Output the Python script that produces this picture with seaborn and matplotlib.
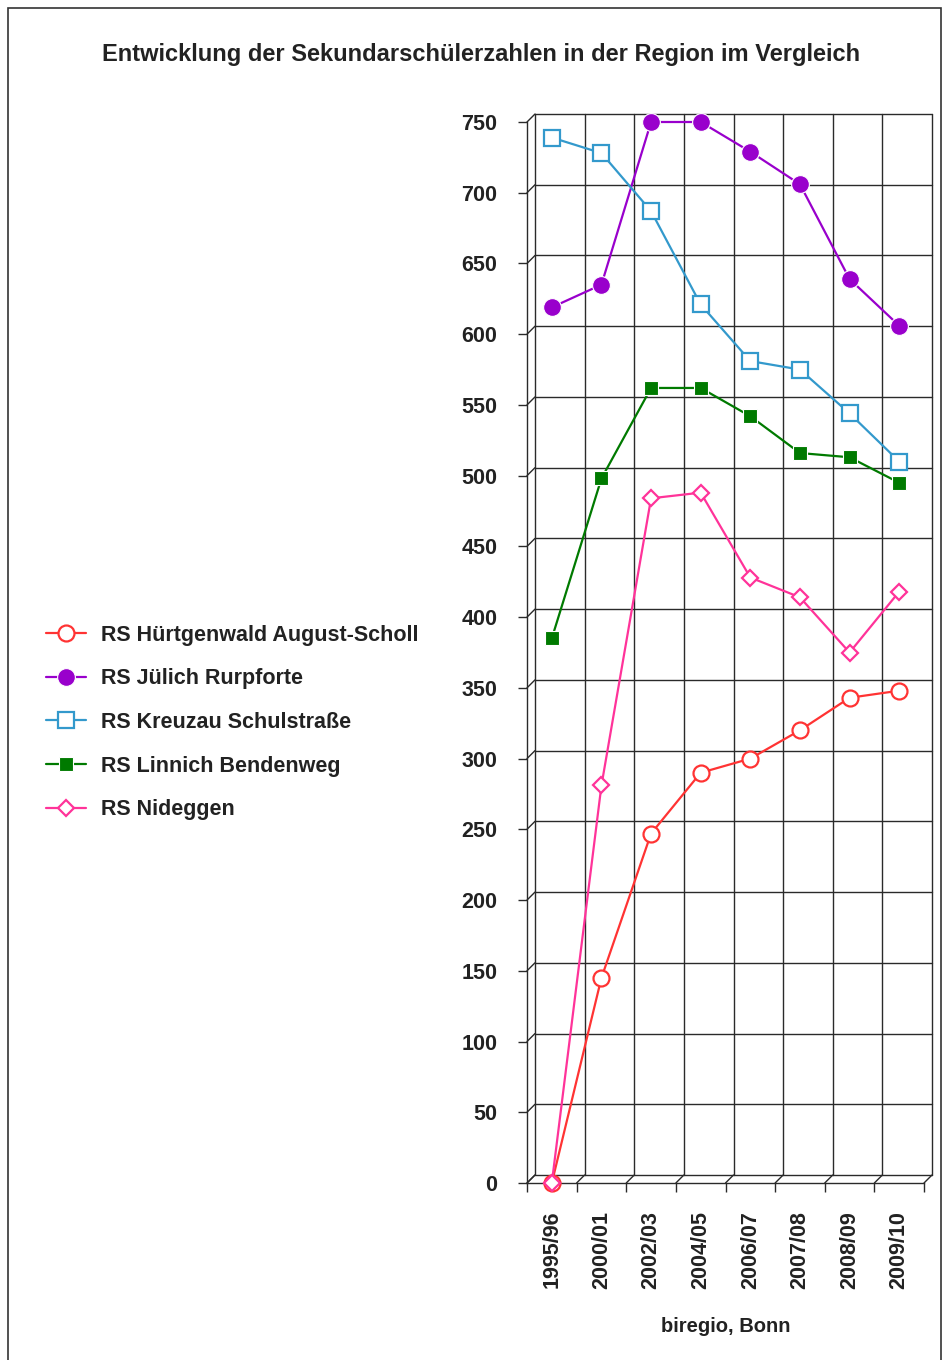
import numpy as np
import pandas as pd
import matplotlib
matplotlib.use("Agg")
import matplotlib.pyplot as plt
import seaborn as sns
from matplotlib import font_manager
from matplotlib.lines import Line2D
from matplotlib.patches import Rectangle

# ---------------- data ----------------
years = ["1995/96", "2000/01", "2002/03", "2004/05", "2006/07", "2007/08", "2008/09", "2009/10"]
hurtgenwald = [0, 145, 247, 290, 300, 320, 343, 348]
juelich = [619, 635, 750, 750, 729, 706, 639, 606]
kreuzau = [739, 728, 687, 621, 581, 575, 544, 510]
linnich = [385, 498, 562, 562, 542, 516, 513, 495]
nideggen = [0, 281, 484, 488, 428, 414, 375, 418]
school_names = ["RS Hürtgenwald August-Scholl", "RS Jülich Rurpforte",
                "RS Kreuzau Schulstraße", "RS Linnich Bendenweg", "RS Nideggen"]
yticks = list(range(0, 751, 50))
title = "Entwicklung der Sekundarschülerzahlen in der Region im Vergleich"
source = "biregio, Bonn"

# ---------------- style ----------------
colors = ["#FF3333", "#9900CC", "#3399CC", "#007A00", "#FF3399"]
markers = ["o", "o", "s", "s", "D"]
msizes = [11.5, 12.8, 11.5, 9.5, 8.2]
filled = [False, True, False, True, False]

sns.set_theme(style="white")
avail = set(f.name for f in font_manager.fontManager.ttflist)
narrow = "Liberation Sans Narrow" if "Liberation Sans Narrow" in avail else "Liberation Sans"
plt.rcParams["font.family"] = ["Liberation Sans", "DejaVu Sans"]
plt.rcParams["font.weight"] = "bold"
TXT = "#222222"

df = pd.DataFrame({
    "pos": np.tile(np.arange(len(years)), len(school_names)),
    "Jahr": years * len(school_names),
    "Schule": np.repeat(school_names, len(years)),
    "Schueler": hurtgenwald + juelich + kreuzau + linnich + nideggen,
})

W, H = 942, 1360
fig = plt.figure(figsize=(W / 100, H / 100), dpi=100)
ax = fig.add_axes([527 / W, 177 / H, 397 / W, 1061 / H])
ax.set_xlim(-0.5, len(years) - 0.5)
ax.set_ylim(0, 750)

# pseudo-3D back wall offset (8 px right / up)
dx = 8 / (ax.bbox.width / len(years))
dy = 8 / (ax.bbox.height / 750)
gc, glw = "#2a2a2a", 1.0
bounds = np.arange(-0.5, len(years), 1.0)
for y in yticks:
    ax.plot([-0.5 + dx, len(years) - 0.5 + dx], [y + dy, y + dy], color=gc, lw=glw, clip_on=False, zorder=0)
    ax.plot([-0.5, -0.5 + dx], [y, y + dy], color=gc, lw=glw, clip_on=False, zorder=0)
for xb in bounds:
    ax.plot([xb + dx, xb + dx], [dy, 750 + dy], color=gc, lw=glw, clip_on=False, zorder=0)
    ax.plot([xb, xb + dx], [0, dy], color=gc, lw=glw, clip_on=False, zorder=0)

handles = []
for i, name in enumerate(school_names):
    sub = df[df["Schule"] == name]
    kw = dict(marker=markers[i], markersize=msizes[i], color=colors[i], lw=1.6,
              markeredgecolor=colors[i] if not filled[i] else "white",
              markerfacecolor="white" if not filled[i] else colors[i],
              markeredgewidth=1.6 if not filled[i] else 0.8)
    sns.lineplot(data=sub, x="pos", y="Schueler", ax=ax, legend=False, zorder=3 + i,
                 clip_on=False, **kw)
    handles.append(Line2D([], [], **kw))

for s in ["top", "right"]:
    ax.spines[s].set_visible(False)
for s in ["left", "bottom"]:
    ax.spines[s].set_color(gc)
    ax.spines[s].set_linewidth(1.0)
    ax.spines[s].set_zorder(1)

ax.set_yticks(yticks, labels=[str(v) for v in yticks], fontfamily=narrow,
              fontweight="bold", fontsize=15.5, color=TXT)
ax.set_xticks(range(len(years)), labels=years, rotation=90, fontfamily=narrow,
              fontweight="bold", fontsize=15.5, color=TXT)
ax.set_xticks(bounds, minor=True)
ax.tick_params(axis="y", left=True, direction="out", length=6.5, width=1, color=gc, pad=15)
ax.tick_params(axis="x", which="major", bottom=True, length=0, pad=20)
ax.tick_params(axis="x", which="minor", bottom=True, direction="out", length=6.5, width=1, color=gc)
ax.set_xlabel(source, fontfamily=narrow, fontweight="bold", fontsize=14.5, color=TXT, labelpad=20)
ax.set_ylabel("")

fig.text(481 / W, 1 - 54 / H, title, ha="center", va="center", fontsize=17,
         fontweight="bold", color=TXT)

fig.legend(handles, school_names, loc="center left", bbox_to_anchor=(46 / W, 1 - 722.5 / H),
           frameon=False, borderpad=0, borderaxespad=0, handlelength=1.85, handletextpad=0.72,
           labelspacing=1.05, prop=dict(size=15.5, weight="bold"), labelcolor=TXT, numpoints=1)

fig.add_artist(Rectangle((7.5 / W, -0.05), (940.5 - 7.5) / W, 1 - 7.5 / H + 0.05,
                         transform=fig.transFigure, fill=False, ec="#333333", lw=1.2))

fig.savefig("out.png", dpi=100, facecolor="white")
